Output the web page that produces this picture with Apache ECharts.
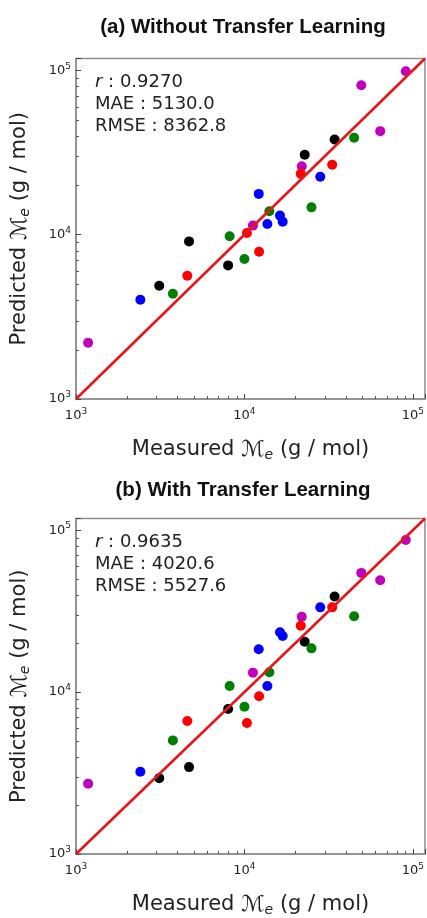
<!DOCTYPE html>
<html>
<head>
<meta charset="utf-8">
<script src="https://cdn.jsdelivr.net/npm/echarts@6/dist/echarts.min.js"></script>
<style>
html,body{margin:0;padding:0;background:#fff;}
#chart{width:427px;height:918px;}
</style>
</head>
<body>
<div id="chart"></div>
<script>
// ---- data ----
const measuredPurple = [1180, 11230, 21900, 49400, 64000, 90800];
const predAPurple    = [2200, 11350, 26100, 81100, 42650, 98600];
const predBPurple    = [2720, 13180, 29200, 54450, 49100, 86900];

const measuredBlue = [2410, 12160, 13680, 16260, 16870, 28200];
const predABlue    = [4020, 17700, 11610, 13060, 12000, 22500];
const predBBlue    = [3220, 18370, 10890, 23440, 22170, 33350];

const measuredBlack = [3120, 4690, 8000, 22800, 34300];
const predABlack    = [4890, 9100, 6500, 30600, 37950];
const predBBlack    = [2940, 3440, 7870, 20450, 38900];

const measuredGreen = [3760, 8170, 10000, 14060, 25000, 44800];
const predAGreen    = [4365, 9780, 7110, 13870, 14660, 38900];
const predBGreen    = [5030, 10910, 8110, 13240, 18620, 29400];

const measuredRed = [4580, 10350, 12220, 21600, 33200];
const predARed    = [5620, 10240, 7870, 23440, 26600];
const predBRed    = [6620, 6440, 9420, 25700, 33350];

const identityLine = [1000, 118000];
const majorTicks = [1000, 10000, 100000];
const minorTicks = [2000, 3000, 4000, 5000, 6000, 7000, 8000, 9000,
                    20000, 30000, 40000, 50000, 60000, 70000, 80000, 90000];
const panelTitles = ['(a) Without Transfer Learning', '(b) With Transfer Learning'];
const statsA = ['0.9270', '5130.0', '8362.8'];
const statsB = ['0.9635', '4020.6', '5527.6'];

// ---- styling ----
const axisMin = 1000, axisMax = 118000;
const FONT = 'DejaVu Sans';
const borderGray = '#8e8e8e';
const colors = { purple: '#bf00bf', blue: '#0000ff', black: '#000000', green: '#008000', red: '#ff0000' };

const groups = [
  { c: colors.purple, x: measuredPurple, a: predAPurple, b: predBPurple },
  { c: colors.blue,   x: measuredBlue,   a: predABlue,   b: predBBlue },
  { c: colors.black,  x: measuredBlack,  a: predABlack,  b: predBBlack },
  { c: colors.green,  x: measuredGreen,  a: predAGreen,  b: predBGreen },
  { c: colors.red,    x: measuredRed,    a: predARed,    b: predBRed }
];

const gridTops = [58.5, 518.5];
const gridH = 340.5;

const tickRich = {
  b: { fontFamily: FONT, fontSize: 13, color: '#222' },
  s: { fontFamily: FONT, fontSize: 9, color: '#222', padding: [0, 0, 8, 0] }
};
function tickFmt(v) {
  return '{b|10}{s|' + Math.round(Math.log10(v)) + '}';
}
const nameRich = {
  a: { fontFamily: FONT, fontSize: 21, color: '#222' },
  m: { fontFamily: FONT, fontSize: 22, color: '#222', fontStyle: 'italic' },
  e: { fontFamily: FONT, fontSize: 14, color: '#222', fontStyle: 'italic', padding: [10, 0, 0, 0] }
};

const grids = [], xAxes = [], yAxes = [], series = [];
gridTops.forEach((top, g) => {
  grids.push({ left: 76, top: top, width: 349, height: gridH, show: true,
    borderColor: borderGray, borderWidth: 1.5, containLabel: false });
  const base = {
    type: 'log', logBase: 10, min: axisMin, max: axisMax, gridIndex: g,
    splitLine: { show: false }
  };
  xAxes.push(Object.assign({}, base, {
    position: 'bottom',
    name: '{a|Measured }{m|ℳ}{e|e}{a| (g / mol)}',
    nameLocation: 'middle', nameGap: 39,
    nameTextStyle: { rich: nameRich },
    axisLine: { show: true, lineStyle: { color: borderGray, width: 1.5 } },
    axisTick: { show: true, inside: true, length: 5, lineStyle: { color: '#444', width: 1 } },
    axisLabel: { show: true, customValues: majorTicks, formatter: tickFmt, rich: tickRich, margin: 8 }
  }));
  yAxes.push(Object.assign({}, base, {
    position: 'left',
    name: '{a|Predicted }{m|ℳ}{e|e}{a| (g / mol)}',
    nameLocation: 'middle', nameGap: 44,
    nameTextStyle: { rich: nameRich },
    axisLine: { show: true, lineStyle: { color: borderGray, width: 1.5 } },
    axisTick: { show: true, inside: true, length: 5, lineStyle: { color: '#444', width: 1 } },
    axisLabel: { show: true, customValues: majorTicks, formatter: tickFmt, rich: tickRich, margin: 5 }
  }));

  // minor ticks (2..9 x 10^k), placed through the axes' own log scales
  series.push({
    type: 'custom', xAxisIndex: g, yAxisIndex: g, clip: false, silent: true, z: 6,
    data: minorTicks.map(v => [v, v]),
    renderItem: function (params, api) {
      const v = api.value(0);
      const px = api.coord([v, axisMin]);
      const py = api.coord([axisMin, v]);
      const st = { stroke: '#555', lineWidth: 1 };
      return { type: 'group', children: [
        { type: 'line', shape: { x1: Math.round(px[0]) + 0.5, y1: px[1], x2: Math.round(px[0]) + 0.5, y2: px[1] - 3 }, style: st },
        { type: 'line', shape: { x1: py[0], y1: Math.round(py[1]) + 0.5, x2: py[0] + 3, y2: Math.round(py[1]) + 0.5 }, style: st }
      ] };
    }
  });

  groups.forEach(gr => {
    const preds = g === 0 ? gr.a : gr.b;
    series.push({
      type: 'scatter', xAxisIndex: g, yAxisIndex: g,
      symbolSize: 10, itemStyle: { color: gr.c, opacity: 1 },
      data: gr.x.map((m, i) => [m, preds[i]]), z: 3
    });
  });
  series.push({
    type: 'line', xAxisIndex: g, yAxisIndex: g, symbol: 'none',
    lineStyle: { color: '#e8161b', width: 2.6 }, z: 5, clip: true,
    data: [[identityLine[0], identityLine[0]], [identityLine[1], identityLine[1]]]
  });
});

const statsRich = {
  i: { fontFamily: FONT, fontSize: 18, fontStyle: 'italic', fill: '#222' },
  n: { fontFamily: FONT, fontSize: 18, fill: '#222' }
};
const titleY = [27.5, 490];
const graphics = [];
[statsA, statsB].forEach((st, g) => {
  const off = g * 460;
  graphics.push({ type: 'text', x: 243, y: titleY[g],
    style: { text: panelTitles[g], font: 'bold 20.5px "Liberation Sans"', fill: '#111',
      textAlign: 'center', textVerticalAlign: 'middle' } });
  graphics.push({ type: 'text', x: 95, y: 82 + off,
    style: { text: '{i|r}{n| : ' + st[0] + '}', rich: statsRich, textVerticalAlign: 'middle' } });
  graphics.push({ type: 'text', x: 95, y: 104 + off,
    style: { text: 'MAE : ' + st[1], font: '18px "' + FONT + '"', fill: '#222', textVerticalAlign: 'middle' } });
  graphics.push({ type: 'text', x: 95, y: 126 + off,
    style: { text: 'RMSE : ' + st[2], font: '18px "' + FONT + '"', fill: '#222', textVerticalAlign: 'middle' } });
});

const chart = echarts.init(document.getElementById('chart'), null, { renderer: 'canvas' });
chart.setOption({
  animation: false,
  backgroundColor: '#fff',
  grid: grids,
  xAxis: xAxes,
  yAxis: yAxes,
  series: series,
  graphic: graphics
});
</script>
</body>
</html>
